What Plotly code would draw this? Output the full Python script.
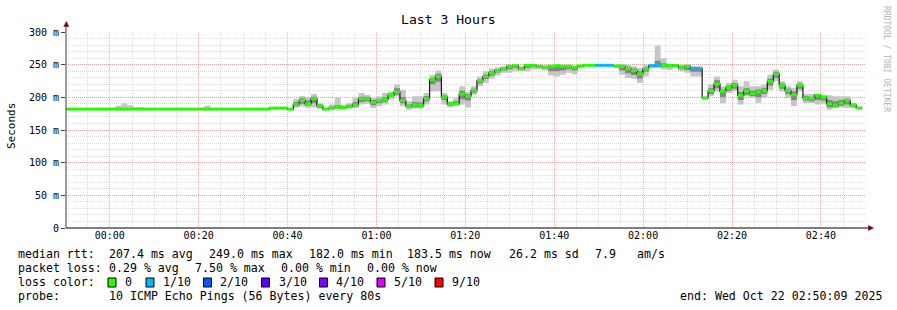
import plotly.graph_objects as go
from datetime import datetime, timedelta

# ---------------- data ----------------
chart_title = "Last 3 Hours"
y_label = "Seconds"
range_start = datetime(2025, 10, 21, 23, 50, 9)
range_end = datetime(2025, 10, 22, 2, 50, 9)
first_sample = datetime(2025, 10, 21, 23, 49, 17)
step_seconds = 80

y_tick_vals = [0, 50, 100, 150, 200, 250, 300]
y_tick_text = ["0", "50 m", "100 m", "150 m", "200 m", "250 m", "300 m"]

# median rtt per 80 s sample (ms)
median = [
    182, 182, 182, 182, 182, 182, 182, 182, 182, 182, 182, 182, 182, 182, 182,
    182, 182, 182, 182, 182, 182, 182, 182, 182, 182, 182, 182, 182, 182, 182,
    182, 182, 182, 182, 182, 183.5, 183.5, 183.5, 182,
    189, 195, 190, 198, 187, 182, 183.5, 184.5, 184.5, 186, 188.5, 198, 198, 192.5, 195, 196.5,
    203, 208, 195, 186.5, 188.5, 188, 198, 227, 232, 200.5, 190, 190, 205, 202, 210.5, 225.5, 232, 237, 241, 243.5,
    247.5, 248.5, 244, 249, 249, 247.5, 246.5, 247.5, 248.5, 247.5, 247.5, 246, 248, 249, 249, 249, 249, 249, 248, 247.5,
    244, 241, 236, 243.5, 248.5, 249, 249, 249, 249, 246, 247.5, 244, 244, 199, 210, 220.5, 209, 214.5, 218.5, 203,
    209.5, 206, 208, 210, 224.5, 235.5, 218, 210, 204, 218, 199, 198, 203, 200, 190, 188, 191, 195, 188, 183.5,
]

# smoke: outer (min/max ping) band
smoke_hi = [
    182, 182, 182, 182, 182, 182, 182, 182, 182, 187, 191, 188, 185, 185, 182,
    182, 182, 182, 182, 182, 182, 182, 182, 182, 187, 182, 182, 182, 182, 182,
    182, 182, 182, 182, 182, 183.5, 183.5, 183.5, 182,
    197.5, 202, 200, 205, 191, 184.5, 189, 199, 189, 191, 199, 206.5, 204, 199, 201.5, 206.5,
    209, 219.5, 211.5, 194, 201.5, 201.5, 206.5, 234.5, 241, 206.5, 194, 199, 217, 208, 217, 232, 240, 244, 246, 247.5,
    250, 250, 247.5, 251, 251, 250, 248.5, 248.5, 250, 248.5, 248.5, 248.5, 250, 251, 251, 251, 251, 251, 250, 251,
    250, 247.5, 245, 250, 251, 279.5, 260, 251, 251, 250, 250, 247.5, 247.5, 201.5, 219.5, 232, 217, 222, 227, 217,
    224.5, 217, 217, 219.5, 234.5, 242.5, 224.5, 217, 214.5, 224.5, 205, 205, 205, 204, 203, 201.5, 201.5, 201.5, 191.5, 186.5,
]
smoke_lo = [
    182, 182, 182, 182, 182, 182, 182, 182, 182, 182, 182, 182, 182, 182, 182,
    182, 182, 182, 182, 182, 182, 182, 182, 182, 182, 182, 182, 182, 182, 182,
    182, 182, 182, 182, 182, 182, 182, 182, 182,
    184.5, 186, 184, 184.5, 182.5, 181, 181, 182.5, 181, 182.5, 183.5, 189, 190, 183.5, 186.5, 189,
    196.5, 201.5, 186.5, 181, 182.5, 182.5, 189, 209, 209, 189, 184.5, 189, 189, 184.5, 204, 217, 222, 228.5, 233.5, 237.5,
    237.5, 240, 240, 240, 242.5, 242.5, 241, 233.5, 232, 234.5, 237.5, 235.5, 246, 247.5, 248.5, 248.5, 248.5, 248.5, 245, 234.5,
    229.5, 228.5, 222, 232, 245, 245, 242.5, 242, 245, 240, 237.5, 232, 232, 196.5, 201.5, 209, 191.5, 206.5, 209, 189,
    201.5, 199, 191.5, 199, 211.5, 224.5, 209, 199, 186.5, 209, 191.5, 191.5, 189, 190, 181, 183.5, 184.5, 183.5, 183.5, 182.5,
]
# smoke: inner (dense) band
inner_hi = [
    182, 182, 182, 182, 182, 182, 182, 182, 182, 182, 182, 182, 182, 182, 182,
    182, 182, 182, 182, 182, 182, 182, 182, 182, 182, 182, 182, 182, 182, 182,
    182, 182, 182, 182, 182, 183.5, 183.5, 183.5, 182,
    193, 199, 195, 201, 189, 183.5, 186, 188, 186.5, 188.5, 193, 201, 201, 196, 198, 200,
    206, 214, 200, 189, 193, 192, 202, 230, 236, 203, 192, 194, 210, 205, 213, 228, 235, 240, 243, 245,
    249, 249.5, 246, 250, 250, 249, 248, 248, 249, 248, 248, 247.5, 249, 250, 250, 250, 250, 250, 249, 249,
    247, 244, 240, 246, 249.5, 256, 252, 250, 250, 248, 249, 246, 246, 200.5, 214, 226, 212, 218, 222, 208,
    214, 210, 212, 214, 229, 239, 221, 213, 209, 221, 202, 201, 204, 202, 196, 194, 196, 198, 190, 185,
]
inner_lo = [
    182, 182, 182, 182, 182, 182, 182, 182, 182, 182, 182, 182, 182, 182, 182,
    182, 182, 182, 182, 182, 182, 182, 182, 182, 182, 182, 182, 182, 182, 182,
    182, 182, 182, 182, 182, 182, 182, 182, 182,
    186, 190, 187, 191, 184, 181.5, 182, 183, 183, 184, 186, 193, 194, 188, 191, 193,
    200, 204, 191, 184, 185, 185, 194, 220, 224, 196, 187, 189.5, 197, 195, 207, 221, 228, 233, 238, 241,
    243, 245, 242, 245, 246, 245, 244, 240, 240, 241, 243, 241, 247, 248, 248.5, 248.5, 248.5, 248.5, 246.5, 241,
    237, 234, 229, 239, 247, 247, 246, 246, 247, 243, 242, 239, 239, 197.5, 205, 214, 200, 210, 213, 196,
    204, 202, 200, 205, 218, 230, 213, 205, 196, 213, 195, 194, 196, 195, 185, 185, 187, 189, 186, 183,
]
# packet loss per sample (pings lost out of 10)
loss = [
    0, 0, 0, 0, 0, 0, 0, 0, 0, 0, 0, 0, 0, 0, 0,
    0, 0, 0, 0, 0, 0, 0, 0, 0, 0, 0, 0, 0, 0, 0,
    0, 0, 0, 0, 0, 0, 0, 0, 0,
    0, 0, 0, 0, 0, 0, 0, 0, 0, 0, 0, 0, 0, 0, 0, 0,
    0, 0, 0, 0, 0, 0, 0, 0, 0, 0, 0, 0, 0, 0, 0, 0, 0, 0, 0, 0,
    0, 0, 0, 0, 0, 0, 0, 0, 0, 0, 0, 0, 0, 0, 0, 1, 1, 1, 0, 0,
    0, 0, 0, 0, 1, 1, 0, 0, 0, 0, 0, 1, 1, 0, 0, 0, 0, 0, 0, 0,
    0, 0, 0, 0, 0, 0, 0, 0, 0, 0, 0, 0, 0, 0, 0, 0, 0, 0, 0, 0,
]

loss_levels = [0, 1, 2, 3, 4, 5, 9]
loss_labels = ["0", "1/10", "2/10", "3/10", "4/10", "5/10", "9/10"]
loss_colors = ["#26ff00", "#00b8ff", "#0059ff", "#5e00ff", "#7e00ff", "#dd00ff", "#ff0000"]

rtt_label = "median rtt:"
rtt_stats = ["207.4 ms avg", "249.0 ms max", "182.0 ms min", "183.5 ms now", "26.2 ms sd", "7.9", "am/s"]
loss_label = "packet loss:"
loss_stats = ["0.29 % avg", "7.50 % max", "0.00 % min", "0.00 % now"]
color_label = "loss color:"
probe_label = "probe:"
probe_text = "10 ICMP Echo Pings (56 Bytes) every 80s"
end_text = "end: Wed Oct 22 02:50:09 2025"
credit = "RRDTOOL / TOBI OETIKER"

# ---------------- figure ----------------
MONO = "DejaVu Sans Mono"
W, H = 897, 310
L, R, T, B = 66, 866, 32, 228

n = len(median)
times = [first_sample + timedelta(seconds=step_seconds * i) for i in range(n + 1)]


def ext(v):
    return list(v) + [v[-1]]


fig = go.Figure()


def band(lo, hi, color):
    fig.add_trace(go.Scatter(x=times, y=ext(lo), mode="lines", line=dict(width=0, shape="hv"),
                             hoverinfo="skip", showlegend=False))
    fig.add_trace(go.Scatter(x=times, y=ext(hi), mode="lines", line=dict(width=0, shape="hv"),
                             fill="tonexty", fillcolor=color, hoverinfo="skip", showlegend=False))


band(smoke_lo, smoke_hi, "#c6c6c6")
band(inner_lo, inner_hi, "#858585")

fig.add_trace(go.Scatter(x=times, y=ext(median), mode="lines",
                         line=dict(width=1.2, shape="hv", color="#1a1a1a"),
                         hoverinfo="skip", showlegend=False))

for lvl, col in zip(loss_levels, loss_colors):
    xs, ys = [], []
    for i in range(n):
        if loss[i] == lvl:
            xs += [times[i], times[i + 1], None]
            ys += [median[i], median[i], None]
    if xs:
        fig.add_trace(go.Scatter(x=xs, y=ys, mode="lines", line=dict(width=3, color=col),
                                 hoverinfo="skip", showlegend=False))


def px(x):
    return (x - L) / (R - L)


def py(y):
    return (B - y) / (B - T)


annotations = []


def text(s, x, y, size=11.6, anchor="left", color="#000", angle=0):
    annotations.append(dict(text=s, x=px(x), y=py(y), xref="paper", yref="paper",
                            xanchor=anchor, yanchor="middle", showarrow=False, textangle=angle,
                            font=dict(family=MONO, size=size, color=color)))


text(chart_title, 448, 20, size=13.1, anchor="center")
text(y_label, 11, 126, size=11, anchor="center", angle=-90)
text(credit, 887, 59, size=8, anchor="center", color="#b4b4b4", angle=90)

row1, row2, row3, row4 = 254, 268, 282, 296
text(rtt_label, 16, row1)
for s, x in zip(rtt_stats, [107, 207, 307, 405, 506.5, 593, 635]):
    text(s, x, row1)
text(loss_label, 16, row2)
for s, x in zip(loss_stats, [107, 193, 279, 365]):
    text(s, x, row2)
text(color_label, 16, row3)
shapes = []
for lab, col, bx, tx in zip(loss_labels, loss_colors,
                            [108, 146, 203.5, 261.5, 319.5, 377, 435],
                            [123.3, 160.7, 218.3, 276.7, 334.3, 392.3, 450]):
    shapes.append(dict(type="rect", xref="paper", yref="paper", x0=px(bx), x1=px(bx + 8),
                       y0=py(287), y1=py(278), fillcolor=col, line=dict(color="#000", width=1)))
    text(lab, tx, row3)
text(probe_label, 16, row4)
text(probe_text, 107, row4)
text(end_text, 678, row4)

# axis lines + arrows
shapes.append(dict(type="line", xref="paper", yref="paper", x0=0, x1=0, y0=0, y1=py(26),
                   line=dict(color="#404040", width=1)))
shapes.append(dict(type="line", xref="paper", yref="paper", x0=0, x1=px(869), y0=0, y1=0,
                   line=dict(color="#000", width=1)))
ARROW = "#7f0000"
shapes.append(dict(type="path", xref="paper", yref="paper",
                   path=f"M {px(63.8)} {py(26.5)} L {px(68.8)} {py(26.5)} L {px(66.3)} {py(21.5)} Z",
                   fillcolor=ARROW, line=dict(color=ARROW, width=0.5)))
shapes.append(dict(type="path", xref="paper", yref="paper",
                   path=f"M {px(868.5)} {py(225.5)} L {px(868.5)} {py(230.5)} L {px(873.5)} {py(228)} Z",
                   fillcolor=ARROW, line=dict(color=ARROW, width=0.5)))

MGRID = "rgba(222,80,80,0.42)"
GRID = "rgba(143,143,143,0.3)"

fig.update_layout(
    width=W, height=H, autosize=False,
    margin=dict(l=L, r=W - R, t=T, b=H - B, pad=0),
    paper_bgcolor="#ffffff", plot_bgcolor="#ffffff",
    showlegend=False,
    annotations=annotations, shapes=shapes,
    font=dict(family=MONO, color="#000"),
    xaxis=dict(type="date", range=[range_start, range_end], tickformat="%H:%M",
               tick0="2025-10-22 00:00:00", dtick=20 * 60 * 1000,
               showgrid=True, gridcolor=MGRID, griddash="1px,1px", gridwidth=1,
               minor=dict(dtick=5 * 60 * 1000, tick0="2025-10-22 00:00:00", showgrid=True,
                          gridcolor=GRID, griddash="1px,1px", gridwidth=1),
               showline=False, zeroline=False, ticks="", ticklabelstandoff=0,
               tickfont=dict(family=MONO, size=10, color="#000"), fixedrange=True),
    yaxis=dict(range=[0, 300], tickvals=y_tick_vals, ticktext=y_tick_text,
               showgrid=True, gridcolor=MGRID, griddash="1px,1px", gridwidth=1,
               minor=dict(dtick=10, showgrid=True, gridcolor=GRID, griddash="1px,1px", gridwidth=1),
               showline=False, zeroline=False, ticks="outside", ticklen=4, tickcolor="#404040",
               tickfont=dict(family=MONO, size=10, color="#000"), fixedrange=True),
)

fig.write_html("out.html")
